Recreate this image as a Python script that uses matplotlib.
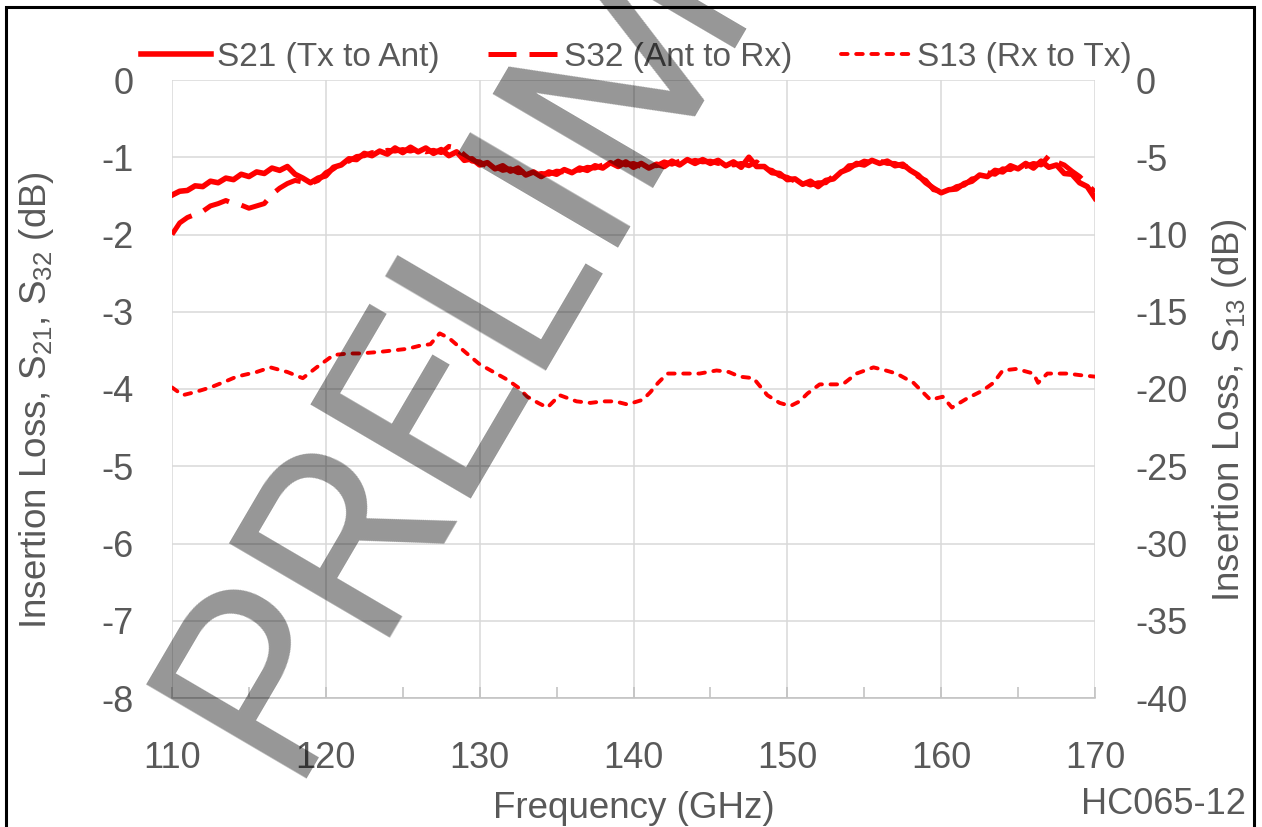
import numpy as np
import matplotlib
matplotlib.use('Agg')
import matplotlib.pyplot as plt
from matplotlib.patches import Rectangle

plt.rcParams['font.family'] = ['Liberation Sans', 'DejaVu Sans']
plt.rcParams['mathtext.default'] = 'regular'
plt.rcParams['axes.unicode_minus'] = False

# frequency grid for the two through paths (GHz), 0.5 GHz steps
freq = np.arange(110, 170.01, 0.5)

# S21 (Tx to Ant), dB, left axis
s21 = [
    -1.49, -1.44, -1.43, -1.37, -1.38, -1.31, -1.33, -1.27, -1.29, -1.22,
    -1.25, -1.19, -1.21, -1.14, -1.17, -1.12, -1.22, -1.27, -1.33, -1.27,
    -1.24, -1.13, -1.10, -1.02, -1.03, -0.95, -0.98, -0.92, -0.96, -0.88,
    -0.94, -0.87, -0.93, -0.88, -0.95, -0.90, -0.98, -0.93, -1.04, -1.02,
    -1.10, -1.07, -1.15, -1.11, -1.18, -1.14, -1.23, -1.19, -1.25, -1.19,
    -1.22, -1.16, -1.20, -1.14, -1.17, -1.11, -1.14, -1.07, -1.12, -1.06,
    -1.13, -1.08, -1.14, -1.09, -1.12, -1.05, -1.10, -1.03, -1.08, -1.03,
    -1.08, -1.04, -1.11, -1.06, -1.13, -1.00, -1.12, -1.12, -1.20, -1.21,
    -1.29, -1.28, -1.35, -1.31, -1.38, -1.30, -1.28, -1.19, -1.15, -1.08,
    -1.10, -1.04, -1.08, -1.05, -1.11, -1.09, -1.17, -1.23, -1.33, -1.40,
    -1.46, -1.42, -1.41, -1.34, -1.31, -1.23, -1.25, -1.17, -1.19, -1.11,
    -1.15, -1.08, -1.14, -1.05, -1.13, -1.10, -1.21, -1.22, -1.33, -1.38,
    -1.53,
]

# S32 (Ant to Rx), dB, left axis
s32 = [
    -2.00, -1.85, -1.78, -1.74, -1.70, -1.63, -1.60, -1.56, -1.60, -1.62,
    -1.66, -1.63, -1.60, -1.48, -1.40, -1.34, -1.30, -1.32, -1.34, -1.30,
    -1.20, -1.15, -1.07, -1.05, -0.99, -0.98, -0.94, -0.95, -0.91, -0.92,
    -0.90, -0.92, -0.89, -0.93, -0.91, -0.94, -0.86, -0.88, -0.97, -1.05,
    -1.06, -1.12, -1.12, -1.17, -1.15, -1.20, -1.19, -1.24, -1.21, -1.22,
    -1.18, -1.19, -1.15, -1.17, -1.13, -1.14, -1.10, -1.11, -1.05, -1.10,
    -1.08, -1.12, -1.10, -1.11, -1.06, -1.09, -1.05, -1.07, -1.04, -1.06,
    -1.05, -1.08, -1.07, -1.10, -1.08, -1.11, -1.06, -1.15, -1.17, -1.24,
    -1.26, -1.31, -1.32, -1.36, -1.33, -1.33, -1.24, -1.21, -1.11, -1.10,
    -1.05, -1.07, -1.05, -1.08, -1.08, -1.12, -1.13, -1.25, -1.30, -1.42,
    -1.44, -1.44, -1.38, -1.36, -1.28, -1.27, -1.20, -1.22, -1.15, -1.16,
    -1.10, -1.12, -1.08, -1.10, -0.98, -1.06, -1.10, -1.18, -1.25, -1.35,
    -1.45,
]

# S13 (Rx to Tx), dB, right axis
s13_freq = [110, 110.7, 111.5, 112.5, 113.5, 114.2, 115.5, 116.4, 117.5, 118.5,
            119.4, 120.5, 121.5, 122.2, 123.5, 124.4, 125.3, 126.1, 126.8, 127.4,
            128.0, 128.7, 129.4, 130.0, 130.9, 131.8, 132.5, 133.1, 133.8, 134.4,
            135.2, 136.3, 137.2, 138.0, 138.8, 139.6, 140.6, 141.1, 141.6, 142.2,
            143.2, 144.3, 145.4, 146.2, 146.9, 147.8, 148.7, 149.5, 150.2, 150.8,
            151.3, 152.1, 152.9, 153.6, 154.5, 155.6, 156.4, 157.1, 158.2, 159.3,
            160.1, 160.7, 161.7, 162.7, 163.4, 164.0, 164.9, 166.0, 166.3, 166.9,
            168.2, 169.0, 170.0]
s13 = [-19.9, -20.4, -20.2, -19.9, -19.5, -19.2, -18.9, -18.6, -18.9, -19.3,
       -18.6, -17.8, -17.7, -17.7, -17.6, -17.5, -17.4, -17.2, -17.1, -16.4,
       -16.7, -17.3, -17.9, -18.4, -18.9, -19.4, -19.9, -20.5, -20.9, -21.2,
       -20.4, -20.8, -20.9, -20.8, -20.8, -21.0, -20.7, -20.2, -19.6, -19.0,
       -19.0, -19.0, -18.8, -18.9, -19.2, -19.3, -20.4, -20.9, -21.1, -20.8,
       -20.3, -19.7, -19.7, -19.7, -19.0, -18.6, -18.8, -19.0, -19.6, -20.7,
       -20.5, -21.2, -20.6, -20.1, -19.6, -18.8, -18.7, -19.0, -19.6, -19.0,
       -19.0, -19.1, -19.2]

x_ticks = list(range(110, 171, 10))
left_ticks = list(range(-8, 1))
right_ticks = list(range(-40, 1, 5))

text_gray = '#595959'
red = '#ff0000'

fig = plt.figure(figsize=(12.62, 8.27), dpi=100)
ax = fig.add_axes([172 / 1262, 1 - 698 / 827, 923 / 1262, 618 / 827])
ax2 = ax.twinx()

l32, = ax.plot(freq, s32, color=red, lw=3.6, dashes=(5.6, 2.6), label='S32 (Ant to Rx)')
l21, = ax.plot(freq, s21, color=red, lw=4.0, solid_joinstyle='round', label='S21 (Tx to Ant)')
l13, = ax2.plot(s13_freq, s13, color=red, lw=2.8, dashes=(1.7, 2.2),
                dash_capstyle='round', label='S13 (Rx to Tx)')

ax.set_xlim(110, 170)
ax.set_ylim(-8, 0)
ax2.set_ylim(-40, 0)
ax.set_xticks(x_ticks)
ax.set_xticks(range(115, 170, 10), minor=True)
ax.set_yticks(left_ticks)
ax2.set_yticks(right_ticks)

ax.grid(True, color='#d9d9d9', lw=1.1)
ax.set_axisbelow(True)
for a in (ax, ax2):
    for sp in a.spines.values():
        sp.set_visible(False)
ax.spines['bottom'].set_visible(True)
ax.spines['bottom'].set_color('#bfbfbf')
ax.spines['bottom'].set_linewidth(1.1)

ax.tick_params(axis='x', which='both', direction='in', length=8, width=1.1,
               color='#bfbfbf', labelsize=26, labelcolor=text_gray, pad=31)
ax.tick_params(axis='y', length=0, labelsize=26, labelcolor=text_gray, pad=27.5)
ax2.tick_params(axis='y', length=0, labelsize=26, labelcolor=text_gray, pad=29)

ax.set_xlabel('Frequency (GHz)', fontsize=26.5, color=text_gray)
ax.xaxis.set_label_coords(0.5, -0.150)
ax.set_ylabel('Insertion Loss, S$_{21}$, S$_{32}$ (dB)', fontsize=26.5, color=text_gray)
ax.yaxis.set_label_coords(-0.1257, 0.482)
ax2.set_ylabel('Insertion Loss, S$_{13}$ (dB)', fontsize=26.5, color=text_gray)
ax2.yaxis.set_label_coords(1.125, 0.466)

leg = ax2.legend([l21, l32, l13], [l21.get_label(), l32.get_label(), l13.get_label()],
                 ncol=3, loc='center', bbox_to_anchor=(0.504, 0.931),
                 bbox_transform=fig.transFigure, frameon=False, fontsize=24,
                 handlelength=2.1, handletextpad=0.18, columnspacing=1.45,
                 borderpad=0, borderaxespad=0)
for t in leg.get_texts():
    t.set_color(text_gray)

fig.text(1246 / 1262, 1 - 804 / 827, 'HC065-12', ha='right', va='center',
         fontsize=26, color=text_gray)

# outer black frame (bottom edge runs off the picture)
fig.add_artist(Rectangle((6 / 1262, -0.05), (1254 - 6) / 1262, 1 - 7 / 827 + 0.05,
                         transform=fig.transFigure, fill=False, ec='black', lw=2.2,
                         zorder=20))

# watermark
fig.text(286 / 1262, 1 - 779 / 827, 'PRELIMINARY', rotation=59.6, rotation_mode='anchor',
         ha='left', va='baseline', fontsize=188, family='Roboto',
         color='black', alpha=0.41, zorder=15)

fig.savefig('out.png', dpi=100)
